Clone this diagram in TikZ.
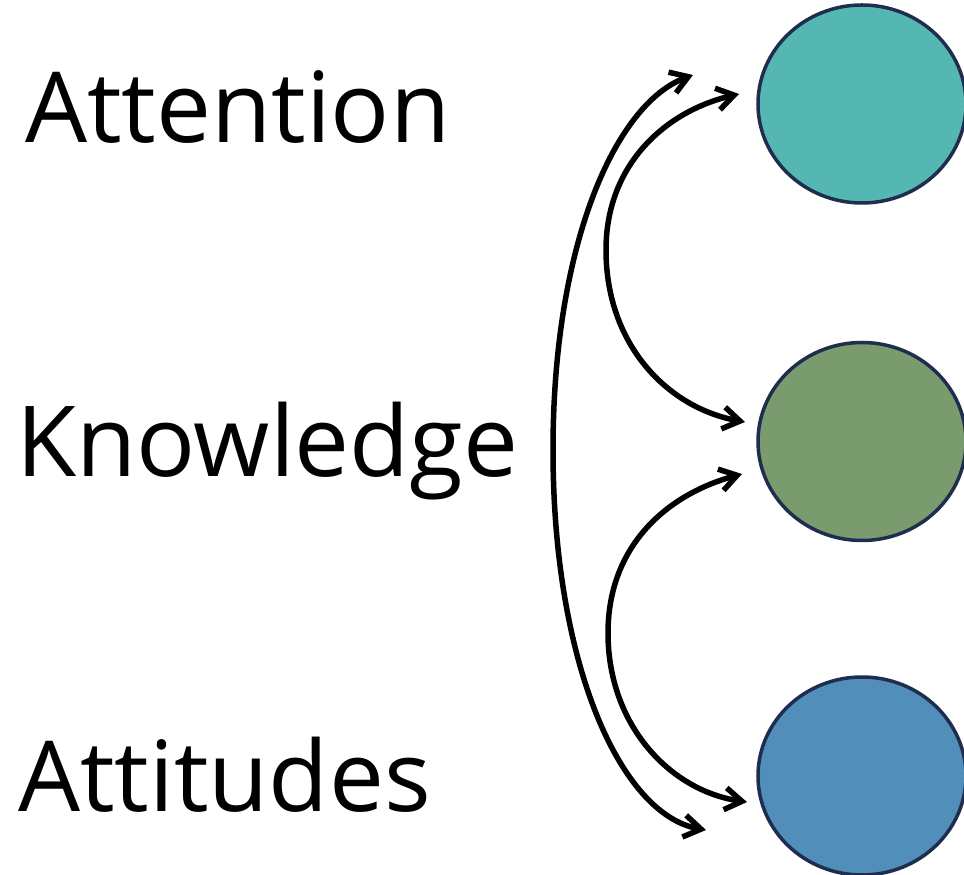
\documentclass[tikz,border=0pt]{standalone}
\usepackage{fontspec}
\setmainfont{Open Sans}
\usetikzlibrary{arrows.meta,shapes.geometric}
\definecolor{cteal}{HTML}{55B7B2}
\definecolor{cgreen}{HTML}{7A9B6D}
\definecolor{cblue}{HTML}{518EB9}
\definecolor{cedge}{HTML}{1F2D4E}
\tikzset{
  word/.style={anchor=base west, inner sep=0pt, font=\fontsize{98}{118}\selectfont},
  ball/.style={ellipse, draw=cedge, line width=3.5pt, minimum width=208pt, minimum height=198pt, inner sep=0pt},
  barb/.tip={Straight Barb[length=17pt,width=22pt,line width=5.5pt]},
  link/.style={line width=5.5pt, barb-barb}
}
\begin{document}
\begin{tikzpicture}[x=1pt,y=1pt]
\useasboundingbox (0,0) rectangle (964,875);
\node[word] (att) at (25,732) {Attention};
\node[word] (kno) at (16,398) {Knowledge};
\node[word] (atu) at (18,63) {Attitudes};
\node[ball, fill=cteal] (c1) at (862,771) {};
\node[ball, fill=cgreen] (c2) at (862,433.5) {};
\node[ball, fill=cblue] (c3) at (862,99) {};
% outer curve
\coordinate (t1) at (693,800);
\coordinate (l1) at (553,425);
\coordinate (b1) at (706,45);
\draw[link] (t1) .. controls (616,772) and (553,632) .. (l1)
  .. controls (553,210) and (621,60) .. (b1);
% top-middle curve
\coordinate (t2) at (739,781);
\coordinate (l2) at (606,625);
\coordinate (b2) at (745,453);
\draw[link] (t2) .. controls (666,764) and (606,711) .. (l2)
  .. controls (606,530) and (668,467) .. (b2);
% middle-bottom curve
\coordinate (t3) at (742,401);
\coordinate (l3) at (608,242);
\coordinate (b3) at (747,73);
\draw[link] (t3) .. controls (668,381) and (608,330) .. (l3)
  .. controls (608,149) and (671,84) .. (b3);
\end{tikzpicture}
\end{document}
